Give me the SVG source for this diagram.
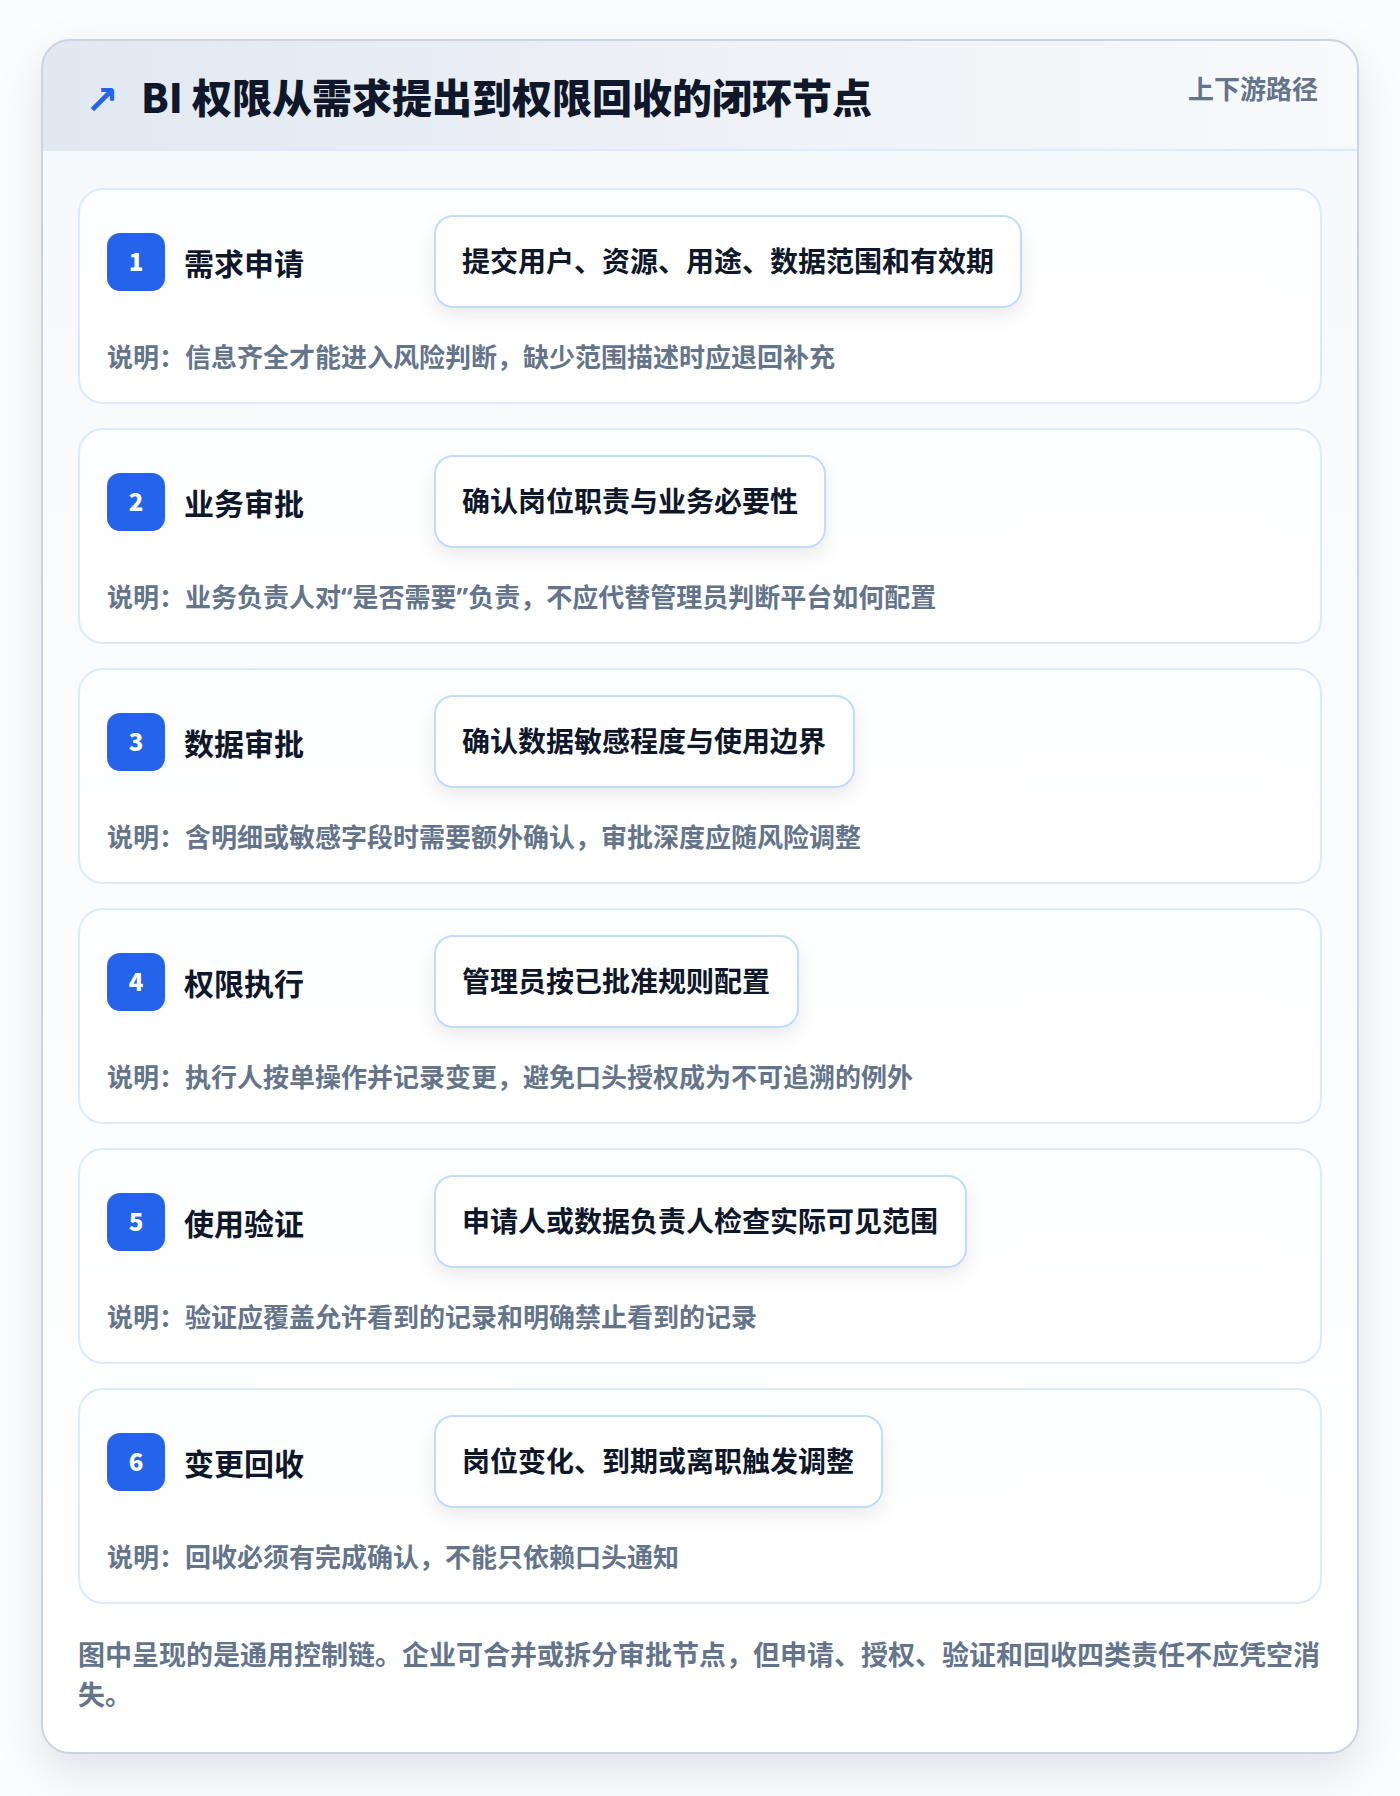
<svg xmlns="http://www.w3.org/2000/svg" width="1400" height="1796" viewBox="0 0 1400 1796">
<style>
text{font-family:"Noto Sans CJK SC","Noto Sans",sans-serif;font-weight:700}
.ttl{font-size:40px;fill:#0f172a;font-weight:900}
.sub{font-size:26px;fill:#64748b}
.card{fill:url(#cardG);stroke:#dbeafe;stroke-width:2}
.badge{fill:#2563eb}
.num{font-size:24px;fill:#ffffff;text-anchor:middle;font-weight:900}
.name{font-size:30px;fill:#0f172a}
.pill{fill:#ffffff;stroke:#bfdbfe;stroke-width:2;filter:url(#pillSh)}
.ptxt{font-size:28px;fill:#0f172a}
.desc{font-size:26px;fill:#64748b}
.q{font-family:"Noto Sans","Liberation Sans",sans-serif}
.foot{font-size:27px;fill:#64748b}
</style>
<defs>
<linearGradient id="hdrG" x1="0" y1="0" x2="1" y2="0">
<stop offset="0" stop-color="#e2e8f0"/>
<stop offset="1" stop-color="#f8fafc"/>
</linearGradient>
<linearGradient id="bodyG" x1="0" y1="0" x2="0" y2="1">
<stop offset="0" stop-color="#f6f9fc"/>
<stop offset="1" stop-color="#ffffff"/>
</linearGradient>
<linearGradient id="cardG" x1="0" y1="0" x2="0" y2="1">
<stop offset="0" stop-color="#fdfeff"/>
<stop offset="1" stop-color="#ffffff"/>
</linearGradient>
<clipPath id="outerClip"><rect x="42" y="40" width="1316" height="1713" rx="28"/></clipPath>
<filter id="outerSh" x="-10%" y="-10%" width="120%" height="120%">
<feDropShadow dx="0" dy="18" stdDeviation="22" flood-color="#0f172a" flood-opacity="0.10"/>
</filter>
<filter id="pillSh" x="-10%" y="-30%" width="120%" height="180%">
<feDropShadow dx="0" dy="8" stdDeviation="9" flood-color="#0f172a" flood-opacity="0.08"/>
</filter>
</defs>
<rect x="0" y="0" width="1400" height="1796" fill="#fbfcfd"/>
<g id="frame">
<rect x="42" y="40" width="1316" height="1713" rx="28" fill="url(#bodyG)" filter="url(#outerSh)"/>
<g clip-path="url(#outerClip)">
<rect x="42" y="40" width="1316" height="110" fill="url(#hdrG)"/>
<line x1="42" y1="150" x2="1358" y2="150" stroke="#dbeafe" stroke-width="2"/>
</g>
<rect x="42" y="40" width="1316" height="1713" rx="28" fill="none" stroke="#cbd5e1" stroke-width="2"/>
</g>
<g id="header">
<text x="85" y="114" style="font-family:'DejaVu Sans',sans-serif;font-weight:700;font-size:40px;fill:#2563eb">↗</text>
<text class="ttl" x="141" y="113">BI 权限从需求提出到权限回收的闭环节点</text>
<text class="sub" x="1318" y="99" text-anchor="end">上下游路径</text>
</g>
<g id="connectors"/>
<g id="node1">
<rect class="card" x="79" y="189" width="1242" height="214" rx="24"/>
<rect class="badge" x="107" y="233" width="58" height="58" rx="13"/>
<text class="num" x="136" y="271">1</text>
<text class="name" x="184" y="275">需求申请</text>
<rect class="pill" x="435" y="216" width="586" height="91" rx="18"/>
<text class="ptxt" x="462" y="272">提交用户、资源、用途、数据范围和有效期</text>
<text class="desc" x="107" y="367">说明：信息齐全才能进入风险判断，缺少范围描述时应退回补充</text>
</g>
<g id="node2">
<rect class="card" x="79" y="429" width="1242" height="214" rx="24"/>
<rect class="badge" x="107" y="473" width="58" height="58" rx="13"/>
<text class="num" x="136" y="511">2</text>
<text class="name" x="184" y="515">业务审批</text>
<rect class="pill" x="435" y="456" width="390" height="91" rx="18"/>
<text class="ptxt" x="462" y="512">确认岗位职责与业务必要性</text>
<text class="desc" x="107" y="607">说明：业务负责人对<tspan class="q">“</tspan>是否需要<tspan class="q">”</tspan>负责，不应代替管理员判断平台如何配置</text>
</g>
<g id="node3">
<rect class="card" x="79" y="669" width="1242" height="214" rx="24"/>
<rect class="badge" x="107" y="713" width="58" height="58" rx="13"/>
<text class="num" x="136" y="751">3</text>
<text class="name" x="184" y="755">数据审批</text>
<rect class="pill" x="435" y="696" width="419" height="91" rx="18"/>
<text class="ptxt" x="462" y="752">确认数据敏感程度与使用边界</text>
<text class="desc" x="107" y="847">说明：含明细或敏感字段时需要额外确认，审批深度应随风险调整</text>
</g>
<g id="node4">
<rect class="card" x="79" y="909" width="1242" height="214" rx="24"/>
<rect class="badge" x="107" y="953" width="58" height="58" rx="13"/>
<text class="num" x="136" y="991">4</text>
<text class="name" x="184" y="995">权限执行</text>
<rect class="pill" x="435" y="936" width="363" height="91" rx="18"/>
<text class="ptxt" x="462" y="992">管理员按已批准规则配置</text>
<text class="desc" x="107" y="1087">说明：执行人按单操作并记录变更，避免口头授权成为不可追溯的例外</text>
</g>
<g id="node5">
<rect class="card" x="79" y="1149" width="1242" height="214" rx="24"/>
<rect class="badge" x="107" y="1193" width="58" height="58" rx="13"/>
<text class="num" x="136" y="1231">5</text>
<text class="name" x="184" y="1235">使用验证</text>
<rect class="pill" x="435" y="1176" width="531" height="91" rx="18"/>
<text class="ptxt" x="462" y="1232">申请人或数据负责人检查实际可见范围</text>
<text class="desc" x="107" y="1327">说明：验证应覆盖允许看到的记录和明确禁止看到的记录</text>
</g>
<g id="node6">
<rect class="card" x="79" y="1389" width="1242" height="214" rx="24"/>
<rect class="badge" x="107" y="1433" width="58" height="58" rx="13"/>
<text class="num" x="136" y="1471">6</text>
<text class="name" x="184" y="1475">变更回收</text>
<rect class="pill" x="435" y="1416" width="447" height="91" rx="18"/>
<text class="ptxt" x="462" y="1472">岗位变化、到期或离职触发调整</text>
<text class="desc" x="107" y="1567">说明：回收必须有完成确认，不能只依赖口头通知</text>
</g>
<g id="footer">
<text class="foot" x="78" y="1665">图中呈现的是通用控制链。企业可合并或拆分审批节点，但申请、授权、验证和回收四类责任不应凭空消</text>
<text class="foot" x="78" y="1705">失。</text>
</g>
</svg>
